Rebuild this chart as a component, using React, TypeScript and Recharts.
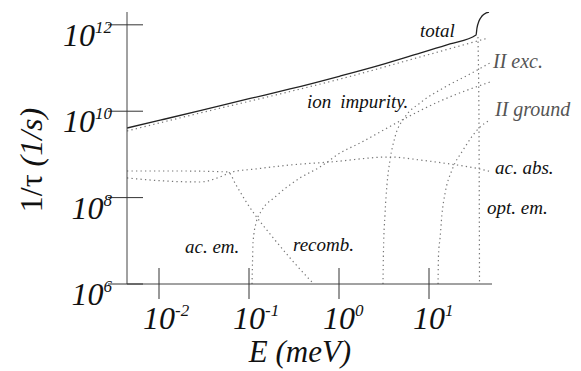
import React from 'react';
import { LineChart, Line, XAxis, YAxis } from 'recharts';

// energies in meV, rates in 1/s
const totalE = [0.00441, 0.0103, 0.0286, 0.103, 0.286, 1.03, 2.86, 7.94, 17.1, 33.3, 34.1, 35.9, 38.8, 43.0, 46.4];
const totalR = [4.08e9, 6.2e9, 1.03e10, 1.97e10, 3.27e10, 6.53e10, 1.17e11, 2.22e11, 3.6e11, 5.8e11, 8.4e11, 1.22e12, 1.6e12, 1.88e12, 1.98e12];

const ionE = [0.00441, 0.0286, 0.286, 1.03, 7.94, 45.2];
const ionR = [3.48e9, 9.1e9, 2.86e10, 5.56e10, 1.8e11, 4.94e11];

const acAbsE = [0.00441, 0.0117, 0.0286, 0.0476, 0.0648, 0.117, 0.286, 0.794, 3.69, 7.94, 17.1, 36.9, 50.1];
const acAbsR = [2.85e8, 2.42e8, 2.3e8, 3.0e8, 3.92e8, 4.59e8, 5.69e8, 6.67e8, 8.71e8, 7.42e8, 6.0e8, 4.59e8, 3.92e8];

const recombE = [0.00441, 0.0171, 0.0585, 0.0718, 0.0903, 0.117, 0.171, 0.286, 0.476, 0.527];
const recombR = [4.13e8, 4.13e8, 3.92e8, 1.96e8, 8.8e7, 3.95e7, 1.44e7, 4.0e6, 1.24e6, 1.0e6];

const acEmE = [0.108, 0.1094, 0.1108, 0.1197, 0.1394, 0.1945, 0.369, 0.615, 1.03, 1.71, 4.76, 13.3, 47.6];
const acEmR = [1.0e6, 3.23e6, 8.9e6, 2.58e7, 5.16e7, 1.03e8, 2.85e8, 5.1e8, 1.08e9, 1.84e9, 5.93e9, 1.72e10, 4.74e10];

const iiExcE = [3.08, 3.12, 3.24, 3.41, 3.69, 4.19, 5.41, 7.94, 15.1, 28.5, 47.6];
const iiExcR = [1.0e6, 6.12e6, 3.95e7, 1.96e8, 7.42e8, 2.53e9, 7.35e9, 1.55e10, 3.63e10, 7.26e10, 1.31e11];

const iiGroundE = [12.6, 12.75, 13.3, 13.9, 15.1, 18.0, 23.9, 36.9, 47.6];
const iiGroundR = [1.0e6, 4.69e6, 1.22e7, 3.95e7, 1.28e8, 4.35e8, 1.26e9, 4.31e9, 6.25e9];

const optEmE = [35.0, 35.5, 35.9, 36.2, 36.4];
const optEmR = [5.2e11, 1.0e11, 1.0e10, 1.0e8, 1.0e6];

const xTicks = [0.01, 0.1, 1, 10];
const xTickExp = ['-2', '-1', '0', '1'];
const yTicks = [1e6, 1e8, 1e10, 1e12];
const yTickExp = ['6', '8', '10', '12'];

const zip = (es: number[], rs: number[]) => es.map((e, i) => ({ e, r: rs[i] }));

const serif = '"Liberation Serif", "DejaVu Serif", "Times New Roman", serif';
const italic = { fontFamily: serif, fontStyle: 'italic' as const };

const XTick = (props: any) => {
  const { x, y, payload } = props;
  const exp = xTickExp[xTicks.indexOf(payload.value)];
  return (
    <g>
      <line x1={x} x2={x} y1={y - 16} y2={y + 15} stroke="#333" />
      <text x={x} y={y + 45} textAnchor="middle" style={italic} fontSize={32} fill="#111">10</text>
      <text x={x + 16} y={y + 32} textAnchor="start" style={italic} fontSize={17} fill="#111">{exp}</text>
    </g>
  );
};

const YTick = (props: any) => {
  const { x, y, payload } = props;
  const exp = yTickExp[yTicks.indexOf(payload.value)];
  return (
    <g>
      <line x1={x - 19} x2={x + 16} y1={y} y2={y} stroke="#333" />
      <text x={x - 15} y={y + 21} textAnchor="end" style={italic} fontSize={32} fill="#111">
        10<tspan dy={-13} fontSize={17}>{exp}</tspan>
      </text>
    </g>
  );
};

const dotted = { stroke: '#777', strokeWidth: 1.2, strokeDasharray: '1.3 3.2' };

export default function App() {
  return (
    <div style={{ position: 'absolute', left: 0, top: 0, width: 581, height: 371, background: '#fff' }}>
      <LineChart width={581} height={371} margin={{ top: 12, right: 89, bottom: 27, left: 27 }}>
        <XAxis
          type="number"
          dataKey="e"
          scale="log"
          domain={[0.00441, 50.1]}
          allowDataOverflow
          ticks={xTicks}
          interval={0}
          tickSize={0}
          tickMargin={0}
          tickLine={false}
          axisLine={{ stroke: '#444' }}
          tick={<XTick />}
          height={60}
        />
        <YAxis
          type="number"
          scale="log"
          domain={[1e6, 1.98e12]}
          allowDataOverflow
          ticks={yTicks}
          interval={0}
          tickSize={0}
          tickMargin={0}
          tickLine={false}
          axisLine={{ stroke: '#444' }}
          tick={<YTick />}
          width={100}
        />
        <Line data={zip(totalE, totalR)} dataKey="r" type="monotone" stroke="#222" strokeWidth={1.3} dot={false} isAnimationActive={false} />
        <Line data={zip(ionE, ionR)} dataKey="r" type="monotone" {...dotted} dot={false} isAnimationActive={false} />
        <Line data={zip(acAbsE, acAbsR)} dataKey="r" type="monotone" {...dotted} dot={false} isAnimationActive={false} />
        <Line data={zip(recombE, recombR)} dataKey="r" type="monotone" {...dotted} dot={false} isAnimationActive={false} />
        <Line data={zip(acEmE, acEmR)} dataKey="r" type="monotone" {...dotted} dot={false} isAnimationActive={false} />
        <Line data={zip(iiExcE, iiExcR)} dataKey="r" type="monotone" {...dotted} dot={false} isAnimationActive={false} />
        <Line data={zip(iiGroundE, iiGroundR)} dataKey="r" type="monotone" {...dotted} dot={false} isAnimationActive={false} />
        <Line data={zip(optEmE, optEmR)} dataKey="r" type="linear" {...dotted} dot={false} isAnimationActive={false} />
      </LineChart>
      <svg width={581} height={371} style={{ position: 'absolute', left: 0, top: 0, pointerEvents: 'none' }}>
        <g style={italic} fill="#111">
          <text x={420} y={37} fontSize={19}>total</text>
          <text x={493} y={68} fontSize={20} fill="#555">II exc.</text>
          <text x={307} y={108} fontSize={19}>ion<tspan dx={9}>impurity.</tspan></text>
          <text x={495} y={116} fontSize={20} fill="#555">II ground</text>
          <text x={495} y={174} fontSize={19}>ac. abs.</text>
          <text x={487} y={214} fontSize={19}>opt. em.</text>
          <text x={293} y={251} fontSize={19}>recomb.</text>
          <text x={185} y={253} fontSize={19}>ac. em.</text>
          <text x={300} y={362} fontSize={31} textAnchor="middle">E (meV)</text>
        </g>
        <text transform="translate(42,160) rotate(-90)" textAnchor="middle" fontSize={32} style={{ fontFamily: serif }} fill="#111">
          1/τ<tspan fontStyle="italic"> (1/s)</tspan>
        </text>
      </svg>
    </div>
  );
}
